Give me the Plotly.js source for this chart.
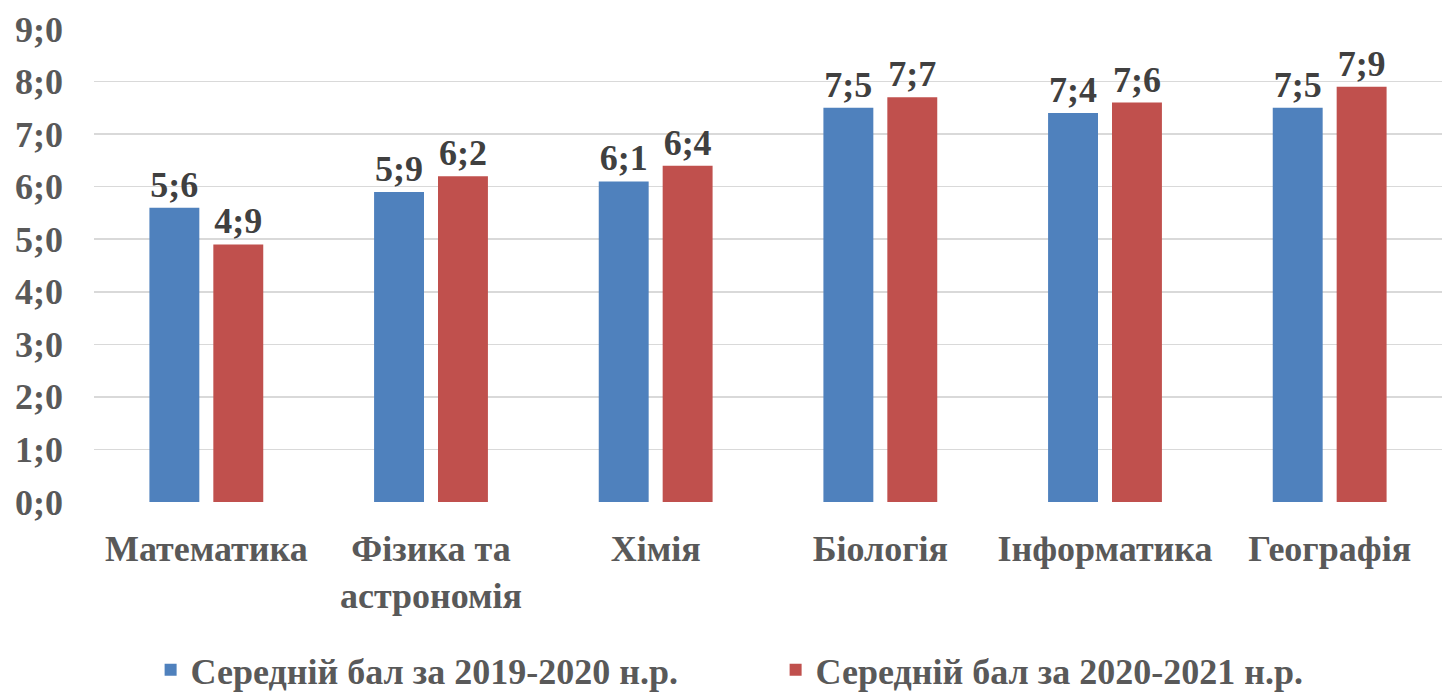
<!DOCTYPE html>
<html>
<head>
<meta charset="utf-8">
<script src="https://cdn.plot.ly/plotly-3.0.1.min.js"></script>
<style>html,body{margin:0;padding:0;background:#fff;}#chart{width:1442px;height:693px;}</style>
</head>
<body>
<div id="chart"></div>
<script>
const categories = ["Математика", "Фізика та<br>астрономія", "Хімія", "Біологія", "Інформатика", "Географія"];
const series1Name = "Середній бал за 2019-2020 н.р.";
const series2Name = "Середній бал за 2020-2021 н.р.";
const series1 = [5.6, 5.9, 6.1, 7.5, 7.4, 7.5];
const series2 = [4.9, 6.2, 6.4, 7.7, 7.6, 7.9];
const tickValues = [0, 1, 2, 3, 4, 5, 6, 7, 8, 9];

const fmt = v => v.toFixed(1).replace('.', ';');
const FONT = '"Liberation Serif", serif';

const traces = [
  {type: 'bar', name: series1Name, x: categories, y: series1,
   marker: {color: '#4F81BD'}, text: series1.map(fmt), textposition: 'outside',
   textfont: {family: FONT, size: 36, color: '#404040', weight: 'bold'}, cliponaxis: false, hoverinfo: 'none'},
  {type: 'bar', name: series2Name, x: categories, y: series2,
   marker: {color: '#C0504D'}, text: series2.map(fmt), textposition: 'outside',
   textfont: {family: FONT, size: 36, color: '#404040', weight: 'bold'}, cliponaxis: false, hoverinfo: 'none'}
];

const layout = {
  width: 1442, height: 693,
  margin: {l: 94, r: 0, t: 29, b: 191, autoexpand: false},
  paper_bgcolor: '#fff', plot_bgcolor: '#fff',
  font: {family: FONT, color: '#595959', size: 36, weight: 'bold'},
  barmode: 'group', bargap: 0.431, bargroupgap: 0.219,
  showlegend: true,
  legend: {orientation: 'h', x: 0.042, xanchor: 'left', y: -0.355, yanchor: 'middle',
           entrywidth: 580, entrywidthmode: 'pixels',
           font: {family: FONT, size: 36, color: '#595959', weight: 'bold'}, itemwidth: 30, traceorder: 'normal'},
  xaxis: {tickfont: {family: FONT, size: 36, color: '#595959', weight: 'bold'}, showgrid: false, showline: false,
          ticks: '', ticklabelstandoff: 22, fixedrange: true, automargin: false},
  yaxis: {range: [0, 9], tickvals: tickValues, ticktext: tickValues.map(fmt), showgrid: true,
          gridcolor: '#d9d9d9', gridwidth: 1.5, zeroline: false, showline: false, ticks: '', automargin: false,
          ticklabelstandoff: 30, tickfont: {family: FONT, size: 36, color: '#595959', weight: 'bold'}, fixedrange: true}
};

Plotly.newPlot('chart', traces, layout, {displayModeBar: false, staticPlot: true});
</script>
</body>
</html>
